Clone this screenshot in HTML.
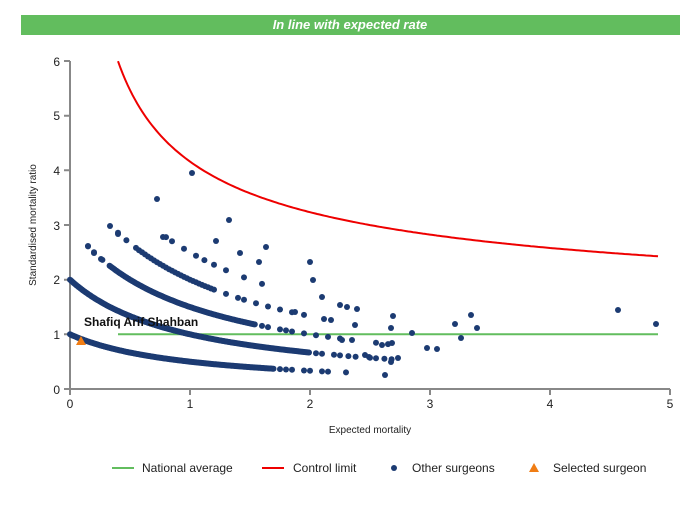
<!DOCTYPE html>
<html><head><meta charset="utf-8"><style>
body{margin:0;background:#fff;width:700px;height:500px;overflow:hidden;font-family:"Liberation Sans",Arial,sans-serif}
</style></head><body>
<svg id="s" width="700" height="500" xmlns="http://www.w3.org/2000/svg" font-family="Liberation Sans, Arial, sans-serif">
<rect x="21" y="15" width="659" height="20" fill="#62bd5e"/>
<text x="350" y="29" text-anchor="middle" fill="#fff" font-size="13" font-weight="bold" font-style="italic">In line with expected rate</text>
<g stroke="#888" stroke-width="2" fill="none">
<path d="M70 61V389H670"/>
<path d="M64 61H70M64 115.7H70M64 170.3H70M64 225H70M64 279.7H70M64 334.3H70M64 389H70"/>
<path d="M70 389v6M190 389v6M310 389v6M430 389v6M550 389v6M670 389v6"/>
</g>
<g font-size="12" fill="#222" text-anchor="end">
<text x="60" y="66">6</text><text x="60" y="120">5</text><text x="60" y="175">4</text><text x="60" y="230">3</text><text x="60" y="284">2</text><text x="60" y="339">1</text><text x="60" y="394">0</text>
</g>
<g font-size="12" fill="#222" text-anchor="middle">
<text x="70" y="408">0</text><text x="190" y="408">1</text><text x="310" y="408">2</text><text x="430" y="408">3</text><text x="550" y="408">4</text><text x="670" y="408">5</text>
</g>
<text x="370" y="433" font-size="10" text-anchor="middle" fill="#222">Expected mortality</text>
<text transform="translate(36,225) rotate(-90)" font-size="10" text-anchor="middle" fill="#222">Standardised mortality ratio</text>
<line x1="118" y1="334.3" x2="658" y2="334.3" stroke="#62bd5e" stroke-width="2"/>
<path id="red" fill="none" stroke="#e00" stroke-width="2"/>
<g id="dots" fill="#1c3b72"></g>
<text x="84" y="326" font-size="12" font-weight="bold" fill="#111">Shafiq Arif Shahban</text>
<polygon points="81,336 76,345 86,345" fill="#f07d14"/>
<line x1="112" y1="468" x2="134" y2="468" stroke="#62bd5e" stroke-width="2"/>
<text x="142" y="472" font-size="12" fill="#222">National average</text>
<line x1="262" y1="468" x2="284" y2="468" stroke="#e00" stroke-width="2"/>
<text x="293" y="472" font-size="12" fill="#222">Control limit</text>
<circle cx="394" cy="468" r="3" fill="#1c3b72"/>
<text x="412" y="472" font-size="12" fill="#222">Other surgeons</text>
<polygon points="534,463 529,472 539,472" fill="#f07d14"/>
<text x="553" y="472" font-size="12" fill="#222">Selected surgeon</text>
</svg>
<script>
var X=function(e){return 70+120*e},Y=function(v){return 389-54.67*v};
var d="";for(var e=0.4;e<=4.9;e+=0.02){var v=1+3.16/Math.sqrt(e);d+=(d?"L":"M")+X(e).toFixed(1)+" "+Y(v).toFixed(1);}
document.getElementById("red").setAttribute("d",d);
var g=document.getElementById("dots"),h="";
function c(x,y){h+='<circle cx="'+x.toFixed(1)+'" cy="'+y.toFixed(1)+'" r="3"/>';}
function b(k,e0,e1,st){for(var e=e0;e<=e1;e+=st){c(X(e),Y(k/(e+1)));}}
b(1,0,1.7,0.008);[1.75,1.8,1.85,1.95,2.0,2.1,2.15,2.3].forEach(function(e){c(X(e),Y(1/(e+1)));});
b(2,0,2.0,0.008);[2.05,2.1,2.2,2.25,2.32,2.38,2.5,2.55,2.62,2.68].forEach(function(e){c(X(e),Y(2/(e+1)));});
[0.15,0.2,0.27].forEach(function(e){c(X(e),Y(3/(e+1)));});b(3,0.33,1.55,0.01);
[1.6,1.65,1.75,1.8,1.85,1.95,2.05,2.15,2.25,2.35,2.55,2.65].forEach(function(e){c(X(e),Y(3/(e+1)));});
[0.4,0.47].forEach(function(e){c(X(e),Y(4/(e+1)));});b(4,0.55,1.2,0.025);
[1.3,1.4,1.45,1.55,1.65,1.75,1.85,1.95].forEach(function(e){c(X(e),Y(4/(e+1)));});
[0.8,0.85,0.95,1.05,1.12,1.2,1.3,1.45,1.6].forEach(function(e){c(X(e),Y(5/(e+1)));});
[[192,173],[157,199],[110,226],[118,234],[88,246],[94,253],[101,259],[163,237],[229,220],[216,241],[240,253],[266,247],[259,262],[310,262],[313,280],[322,297],[340,305],[347,307],[357,309],[295,312],[324,319],[331,320],[355,325],[342,340],[393,316],[391,328],[412,333],[392,343],[427,348],[437,349],[455,324],[461,338],[471,315],[477,328],[618,310],[656,324],[382,345],[398,358],[385,375],[391,362],[365,355],[369,357]].forEach(function(p){c(p[0],p[1]);});
g.innerHTML=h;
</script>
</body></html>
